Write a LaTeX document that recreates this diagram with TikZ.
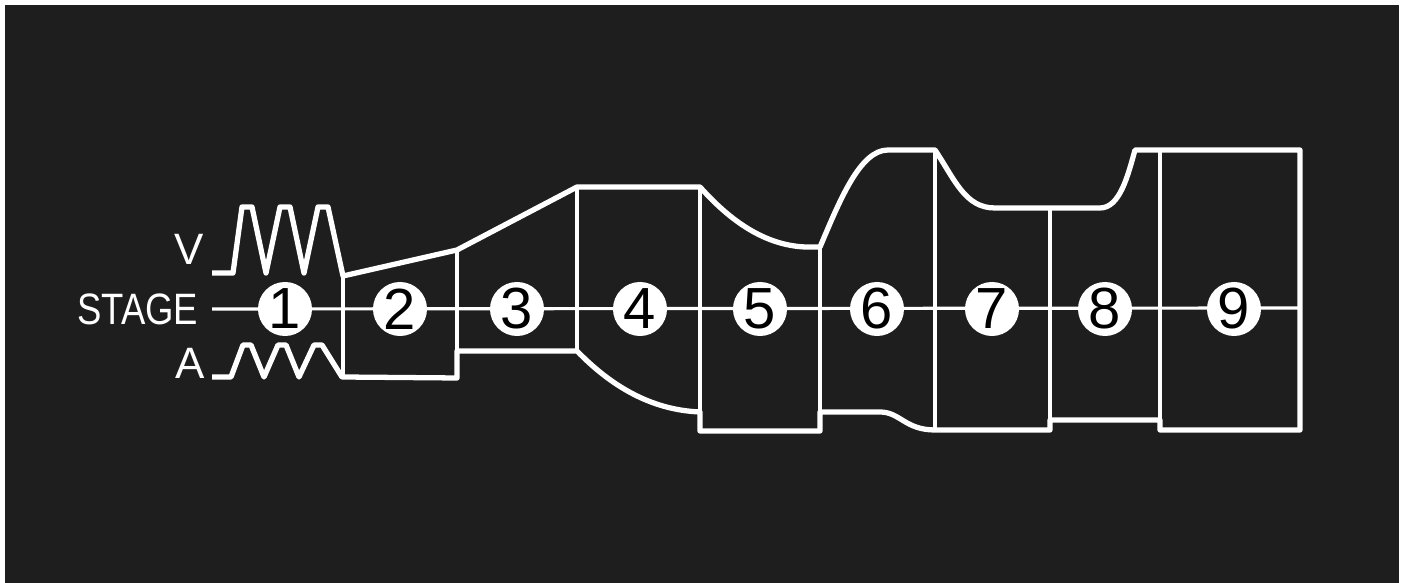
\documentclass[tikz,border=0pt]{standalone}
\usepackage{fontspec}
\usepackage{graphicx}
\setmainfont{Liberation Sans}
\definecolor{bg}{RGB}{30,30,30}
\begin{document}
\begin{tikzpicture}[x=0.01cm,y=-0.01cm,
  outline/.style={draw=white,line width=1.5pt,line join=round},
  divider/.style={draw=white,line width=1.15pt},
  stageline/.style={draw=white,line width=0.9pt},
  num/.style={circle,fill=white,draw=none,minimum size=0.54cm,inner sep=0pt,text=black,font=\fontsize{16.5}{16.5}\selectfont},
  lbl/.style={text=white,inner sep=0pt,font=\fontsize{12.5}{13}\selectfont}]
\useasboundingbox (0,0) rectangle (1406,583);
\fill[white] (0,0) rectangle (1406,583);
\fill[bg] (5,5) rectangle (1399,583);
% labels
\node[lbl,anchor=east] (stage) at (199,309) {\scalebox{0.83}[1]{STAGE}};
\node[lbl] (v) at (189,249) {V};
\node[lbl] (a) at (190,363) {A};
% stage line
\coordinate (send) at (1300,308);
\draw[stageline,shorten <=0.13cm] (stage.east) -- (send);
% dividers
\draw[divider] (343,276) -- (343,378);
\draw[divider] (457,250) -- (457,351);
\draw[divider] (577,187) -- (577,351);
\draw[divider] (700,187) -- (700,412);
\draw[divider] (820,247) -- (820,412);
\draw[divider] (935,150) -- (935,430);
\draw[divider] (1050,208) -- (1050,420);
\draw[divider] (1160,150) -- (1160,420);
% outline
\draw[outline] (212,273) -- (233,273) -- (242,207) -- (252,207) -- (266,273) -- (280,207) -- (290,207) -- (304,273) -- (318,207) -- (328,207) -- (343,276)
  -- (457,250) -- (577,187) -- (700,187)
  .. controls (725,215) and (760,245) .. (805,247) -- (820,247)
  .. controls (840,200) and (860,150) .. (888,150) -- (935,150)
  .. controls (955,180) and (965,208) .. (995,208) -- (1100,208)
  .. controls (1120,208) and (1128,175) .. (1135,150) -- (1300,150)
  -- (1300,430) -- (1160,430) -- (1160,420) -- (1050,420) -- (1050,430) -- (935,430)
  .. controls (905,430) and (900,412) .. (880,412) -- (820,412) -- (820,431) -- (700,431) -- (700,412)
  .. controls (650,410) and (610,385) .. (577,351) -- (457,351) -- (457,378) -- (342,377)
  -- (322,345) -- (314,345) -- (299,377) -- (286,345) -- (278,345) -- (264,377) -- (251,345) -- (243,345) -- (231,377) -- (212,377);
% stage circles
\foreach \n/\x in {1/285,2/400,3/517,4/640,5/760,6/877,7/992,8/1105,9/1234}
  \node[num] (s\n) at (\x,309) {\n};
\end{tikzpicture}
\end{document}
